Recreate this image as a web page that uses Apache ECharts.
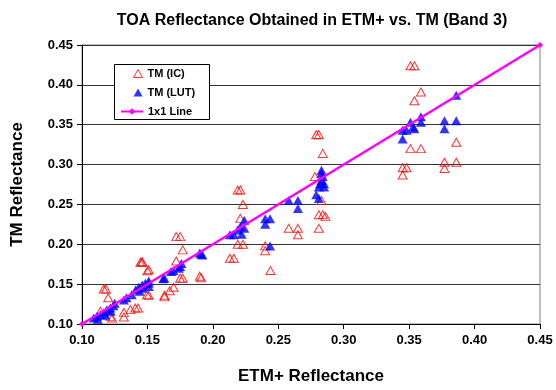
<!DOCTYPE html>
<html><head><meta charset="utf-8">
<script src="https://cdn.jsdelivr.net/npm/echarts@6/dist/echarts.min.js"></script>
<style>html,body{margin:0;padding:0;background:#fff}#c{width:556px;height:390px}</style>
</head><body><div id="c"></div>
<script>
var titleText = 'TOA Reflectance Obtained in ETM+ vs. TM (Band 3)';
var xTitle = 'ETM+ Reflectance';
var yTitle = 'TM Reflectance';
var seriesNames = ['TM (IC)', 'TM (LUT)', '1x1 Line'];
var tmIC = [
 [0.1166,0.144],[0.1183,0.144],[0.120,0.133],[0.114,0.116],[0.1216,0.1096],[0.123,0.1075],[0.132,0.1146],[0.132,0.1088],[0.137,0.118],[0.1407,0.12],[0.1428,0.12],[0.1446,0.1775],[0.1458,0.1775],[0.150,0.1667],[0.1497,0.1367],[0.146,0.178],[0.151,0.168],[0.151,0.136],
 [0.172,0.2096],[0.175,0.2096],[0.177,0.193],[0.172,0.179],[0.175,0.1575],[0.177,0.1575],[0.190,0.16],[0.191,0.158],[0.170,0.146],[0.167,0.1417],[0.163,0.134],[0.163,0.136],
 [0.219,0.268],[0.221,0.268],[0.223,0.25],[0.221,0.2325],[0.219,0.2],[0.223,0.2],[0.213,0.1825],[0.216,0.1825],[0.244,0.167],[0.240,0.198],[0.240,0.192],
 [0.258,0.22],[0.265,0.22],[0.265,0.212],[0.281,0.22],[0.279,0.3375],[0.281,0.3375],[0.284,0.314],[0.278,0.285],[0.283,0.255],[0.281,0.237],[0.284,0.237],[0.286,0.235],
 [0.351,0.424],[0.354,0.424],[0.359,0.391],[0.354,0.380],[0.351,0.320],[0.359,0.320],[0.386,0.328],[0.345,0.296],[0.348,0.296],[0.345,0.287],[0.377,0.303],[0.377,0.295],[0.386,0.303]
];
var tmLUT = [
 [0.109,0.1075],[0.1115,0.1096],[0.114,0.1116],[0.1166,0.114],[0.119,0.118],[0.1216,0.12],[0.124,0.123],[0.132,0.130],[0.134,0.133],[0.138,0.1367],[0.141,0.143],[0.1433,0.146],[0.146,0.149],[0.1484,0.151],[0.151,0.154],
 [0.112,0.106],[0.118,0.111],[0.122,0.116],[0.125,0.126],
 [0.144,0.141],[0.146,0.145],[0.151,0.147],[0.151,0.151],[0.162,0.1567],[0.163,0.1575],[0.168,0.166],[0.170,0.1667],[0.174,0.170],[0.175,0.172],[0.176,0.176],[0.190,0.189],[0.191,0.1875],[0.192,0.1867],
 [0.213,0.212],[0.216,0.212],[0.222,0.2125],[0.219,0.218],[0.224,0.22],[0.221,0.222],[0.224,0.230],
 [0.240,0.232],[0.2437,0.232],[0.240,0.225],[0.2437,0.198],
 [0.258,0.255],[0.265,0.255],[0.265,0.245],[0.279,0.262],[0.281,0.2575],
 [0.283,0.293],[0.283,0.289],[0.284,0.285],[0.283,0.280],[0.282,0.276],[0.285,0.276],[0.281,0.272],[0.285,0.272],
 [0.345,0.343],[0.348,0.343],[0.345,0.332],[0.351,0.353],[0.353,0.347],[0.354,0.345],[0.359,0.360],[0.359,0.353],[0.377,0.355],[0.377,0.345],[0.386,0.355],[0.386,0.387]
];
var oneToOne = [[0.10,0.10],[0.45,0.45]];
var axisMin = 0.10, axisMax = 0.45, axisStep = 0.05;

var chart = echarts.init(document.getElementById('c'), null, {renderer:'canvas'});
var font = 'Arial, "Liberation Sans", sans-serif';
var legendText = {fontFamily: font, fontWeight: 'bold', fontSize: 11, color: '#000', lineHeight: 13};
chart.setOption({
  animation: false,
  title: {text: titleText, left: 307, top: 8, textAlign: 'center',
    textStyle: {fontFamily: font, fontWeight: 'bold', fontSize: 16, color: '#000'}},
  grid: {left: 82, right: 16, top: 45, bottom: 64, show: true, borderColor: '#808080', borderWidth: 1},
  graphic: [{type: 'rect', left: 114, top: 64, z: 90,
    shape: {width: 95, height: 55}, style: {fill: '#fff', stroke: '#000', lineWidth: 1}}],
  legend: [
    {orient: 'vertical', left: 133, top: 67, z: 100,
     data: [{name: seriesNames[0], itemStyle: {borderWidth: 1, borderColor: '#FF0000', color: 'rgba(255,255,255,0)'}}, {name: seriesNames[1]}],
     padding: 0, itemGap: 6, itemWidth: 9, itemHeight: 8, textStyle: legendText},
    {orient: 'vertical', left: 120, top: 105, data: [seriesNames[2]], z: 100,
     padding: 0, itemGap: 6, itemWidth: 22, itemHeight: 8, textStyle: legendText}
  ],
  xAxis: {
    type: 'value', min: axisMin, max: axisMax, interval: axisStep,
    name: xTitle, nameLocation: 'middle', nameGap: 44,
    nameTextStyle: {fontFamily: font, fontWeight: 'bold', fontSize: 17, color: '#000'},
    axisLine: {lineStyle: {color: '#000', width: 1}},
    axisTick: {show: true, inside: false, length: 5, lineStyle: {color: '#000'}},
    axisLabel: {fontFamily: font, fontWeight: 'bold', fontSize: 13, color: '#000', margin: 10,
      formatter: function(v){return v.toFixed(2);}},
    splitLine: {show: false}
  },
  yAxis: {
    type: 'value', min: axisMin, max: axisMax, interval: axisStep,
    name: yTitle, nameLocation: 'middle', nameGap: 56,
    nameTextStyle: {fontFamily: font, fontWeight: 'bold', fontSize: 17, color: '#000'},
    axisLine: {show: true, lineStyle: {color: '#000', width: 1}},
    axisTick: {show: true, inside: false, length: 5, lineStyle: {color: '#000'}},
    axisLabel: {fontFamily: font, fontWeight: 'bold', fontSize: 13, color: '#000', margin: 9,
      formatter: function(v){return v.toFixed(2);}},
    splitLine: {show: true, lineStyle: {color: '#333', width: 1}}
  },
  series: [
    {name: seriesNames[0], type: 'scatter', data: tmIC, symbol: 'triangle', symbolSize: [9, 8],
      itemStyle: {color: 'rgba(255,255,255,0)', borderColor: '#FF0000', borderWidth: 1}, z: 2},
    {name: seriesNames[1], type: 'scatter', data: tmLUT, symbol: 'triangle', symbolSize: [10, 9],
      itemStyle: {color: '#0000FF'}, z: 3},
    {name: seriesNames[2], type: 'line', data: oneToOne, symbol: 'diamond', symbolSize: 6,
      color: '#FF00FF', lineStyle: {color: '#FF00FF', width: 2.5}, itemStyle: {color: '#FF00FF'}, z: 4}
  ]
});
</script></body></html>
